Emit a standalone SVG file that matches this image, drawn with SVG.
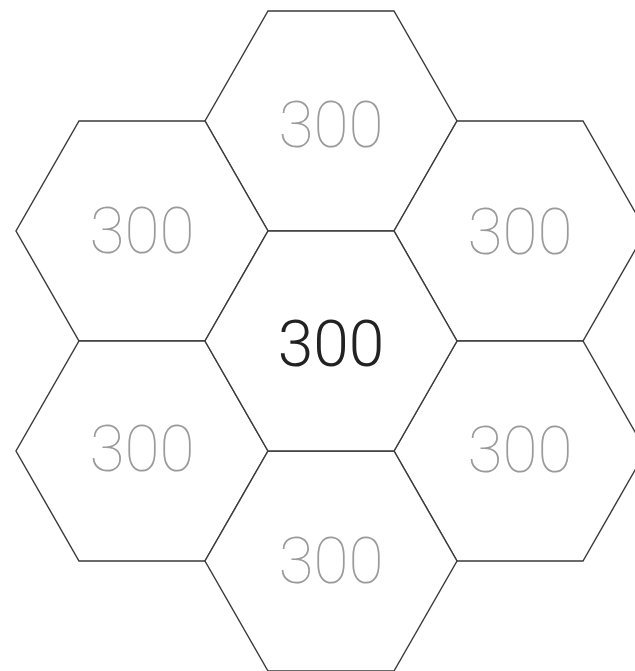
<svg xmlns="http://www.w3.org/2000/svg" width="635" height="671" viewBox="0 0 635 671">
<defs>
<style>
.hex{fill:#fff;stroke:#3a3a3a;stroke-width:1.4;stroke-linejoin:miter}
.lbl{font-family:Roboto,"Liberation Sans",sans-serif;font-size:64px;text-anchor:middle}
.dim{fill:#9a9a9a;font-weight:100}
.main{fill:#222;font-weight:300}
</style>
<polygon id="hexshape" class="hex" points="-63,-110 63,-110 126,0 63,110 -63,110 -126,0"/>
</defs>
<rect width="635" height="671" fill="#fff"/>
<g id="hex-top" transform="translate(331,121)"><use href="#hexshape"/><text class="lbl dim" x="0" y="26">300</text></g>
<g id="hex-top-left" transform="translate(142,231)"><use href="#hexshape"/><text class="lbl dim" x="0" y="22">300</text></g>
<g id="hex-top-right" transform="translate(520,231)"><use href="#hexshape"/><text class="lbl dim" x="0" y="23">300</text></g>
<g id="hex-bottom-left" transform="translate(142,451)"><use href="#hexshape"/><text class="lbl dim" x="0" y="20">300</text></g>
<g id="hex-bottom-right" transform="translate(520,451)"><use href="#hexshape"/><text class="lbl dim" x="0" y="21">300</text></g>
<g id="hex-bottom" transform="translate(331,561)"><use href="#hexshape"/><text class="lbl dim" x="0" y="22">300</text></g>
<g id="hex-center" transform="translate(331,341)"><use href="#hexshape"/><text class="lbl main" x="0" y="25">300</text></g>
<g id="connectors"/>
</svg>
